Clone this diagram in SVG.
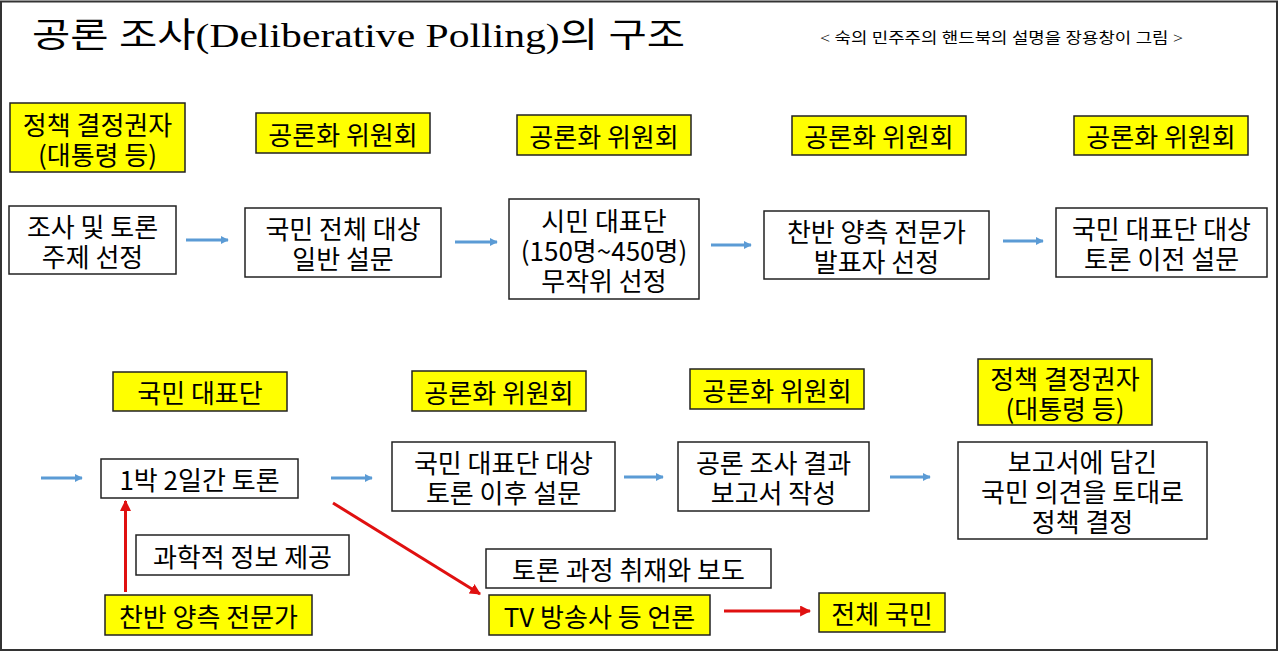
<svg xmlns="http://www.w3.org/2000/svg" width="1280" height="652" viewBox="0 0 1280 652">
<defs>
<style>
.y{fill:#ffff00;stroke:#222;stroke-width:1.5}
.w{fill:#fff;stroke:#222;stroke-width:1.5}
.t{font-family:"Noto Sans CJK KR","Noto Sans",sans-serif;font-size:26px;fill:#000;text-anchor:middle;dominant-baseline:central}
.b{stroke:#5b9bd5;stroke-width:3;fill:none}
.r{stroke:#e01010;stroke-width:3;fill:none}
</style>
<marker id="ab" viewBox="0 0 10 10" refX="9" refY="5" markerWidth="8" markerHeight="8" markerUnits="userSpaceOnUse" orient="auto"><path d="M0,0 L10,5 L0,10 z" fill="#5b9bd5"/></marker>
<marker id="ar" viewBox="0 0 10 10" refX="9" refY="5" markerWidth="11" markerHeight="11" markerUnits="userSpaceOnUse" orient="auto"><path d="M0,0 L10,5 L0,10 z" fill="#e01010"/></marker>
</defs>
<rect x="0" y="0" width="1280" height="652" fill="#fff"/>
<rect x="1" y="1.5" width="1276" height="648.5" fill="none" stroke="#333" stroke-width="2"/>
<text x="32" y="47" font-family="'Liberation Serif','Noto Sans CJK KR',serif" font-size="34" fill="#000" textLength="653" lengthAdjust="spacingAndGlyphs">공론 조사(Deliberative Polling)의 구조</text>
<text x="820" y="43" font-family="'Liberation Serif','Noto Sans CJK KR',serif" font-size="15" fill="#000" textLength="363" lengthAdjust="spacingAndGlyphs">&lt; 숙의 민주주의 핸드북의 설명을 장용창이 그림 &gt;</text>

<g id="y1"><rect class="y" x="10" y="103" width="175" height="69"/><text class="t" x="97.5" y="123">정책 결정권자</text><text class="t" x="97.5" y="153">(대통령 등)</text></g>
<g id="y2"><rect class="y" x="256" y="113" width="174" height="40"/><text class="t" x="343" y="133">공론화 위원회</text></g>
<g id="y3"><rect class="y" x="517" y="115" width="174" height="40"/><text class="t" x="604" y="135">공론화 위원회</text></g>
<g id="y4"><rect class="y" x="792" y="116" width="174" height="39"/><text class="t" x="879" y="135.5">공론화 위원회</text></g>
<g id="y5"><rect class="y" x="1074" y="116" width="174" height="39"/><text class="t" x="1161" y="135.5">공론화 위원회</text></g>

<g id="w1"><rect class="w" x="9" y="206" width="167" height="68"/><text class="t" x="92.5" y="225">조사 및 토론</text><text class="t" x="92.5" y="255">주제 선정</text></g>
<g id="w2"><rect class="w" x="245" y="208" width="196" height="69"/><text class="t" x="343" y="227.5">국민 전체 대상</text><text class="t" x="343" y="257.5">일반 설문</text></g>
<g id="w3"><rect class="w" x="509" y="199" width="190" height="100"/><text class="t" x="604" y="219">시민 대표단</text><text class="t" x="604" y="249">(150명~450명)</text><text class="t" x="604" y="279">무작위 선정</text></g>
<g id="w4"><rect class="w" x="764" y="211" width="225" height="68"/><text class="t" x="876.5" y="230">찬반 양측 전문가</text><text class="t" x="876.5" y="260">발표자 선정</text></g>
<g id="w5"><rect class="w" x="1056" y="208" width="211" height="69"/><text class="t" x="1161.5" y="227.5">국민 대표단 대상</text><text class="t" x="1161.5" y="257.5">토론 이전 설문</text></g>

<g id="y6"><rect class="y" x="113" y="372" width="174" height="39"/><text class="t" x="200" y="391.5">국민 대표단</text></g>
<g id="y7"><rect class="y" x="412" y="371" width="174" height="40"/><text class="t" x="499" y="391">공론화 위원회</text></g>
<g id="y8"><rect class="y" x="690" y="369" width="174" height="40"/><text class="t" x="777" y="389">공론화 위원회</text></g>
<g id="y9"><rect class="y" x="978" y="359" width="174" height="66"/><text class="t" x="1065" y="377">정책 결정권자</text><text class="t" x="1065" y="407">(대통령 등)</text></g>

<g id="w6"><rect class="w" x="101" y="459" width="197" height="39"/><text class="t" x="199.5" y="478.5">1박 2일간 토론</text></g>
<g id="w7"><rect class="w" x="392" y="442" width="223" height="69"/><text class="t" x="503.5" y="461.5">국민 대표단 대상</text><text class="t" x="503.5" y="491.5">토론 이후 설문</text></g>
<g id="w8"><rect class="w" x="678" y="442" width="191" height="69"/><text class="t" x="773.5" y="461.5">공론 조사 결과</text><text class="t" x="773.5" y="491.5">보고서 작성</text></g>
<g id="w9"><rect class="w" x="958" y="442" width="249" height="97"/><text class="t" x="1082.5" y="460.5">보고서에 담긴</text><text class="t" x="1082.5" y="490.5">국민 의견을 토대로</text><text class="t" x="1082.5" y="520.5">정책 결정</text></g>

<g id="w10"><rect class="w" x="136" y="535" width="213" height="40"/><text class="t" x="242.5" y="555">과학적 정보 제공</text></g>
<g id="y10"><rect class="y" x="105" y="595" width="207" height="40"/><text class="t" x="208.5" y="615">찬반 양측 전문가</text></g>
<g id="w11"><rect class="w" x="486" y="549" width="285" height="39"/><text class="t" x="628.5" y="568.5">토론 과정 취재와 보도</text></g>
<g id="y11"><rect class="y" x="489" y="595" width="221" height="40"/><text class="t" x="599.5" y="615">TV 방송사 등 언론</text></g>
<g id="y12"><rect class="y" x="819" y="593" width="126" height="39"/><text class="t" x="882" y="612.5">전체 국민</text></g>

<g id="connectors">
<line class="b" x1="186" y1="240" x2="228" y2="240" marker-end="url(#ab)"/>
<line class="b" x1="455" y1="242" x2="497" y2="242" marker-end="url(#ab)"/>
<line class="b" x1="711" y1="245" x2="751" y2="245" marker-end="url(#ab)"/>
<line class="b" x1="1003" y1="241" x2="1043" y2="241" marker-end="url(#ab)"/>
<line class="b" x1="41" y1="478" x2="82" y2="478" marker-end="url(#ab)"/>
<line class="b" x1="331" y1="478" x2="372" y2="478" marker-end="url(#ab)"/>
<line class="b" x1="624" y1="477" x2="663" y2="477" marker-end="url(#ab)"/>
<line class="b" x1="890" y1="477" x2="930" y2="477" marker-end="url(#ab)"/>
<line class="r" x1="125.5" y1="592" x2="125.5" y2="501" marker-end="url(#ar)"/>
<line class="r" x1="333" y1="503" x2="480" y2="594" marker-end="url(#ar)"/>
<line class="r" x1="724" y1="611" x2="810" y2="611" marker-end="url(#ar)"/>
</g>
</svg>
